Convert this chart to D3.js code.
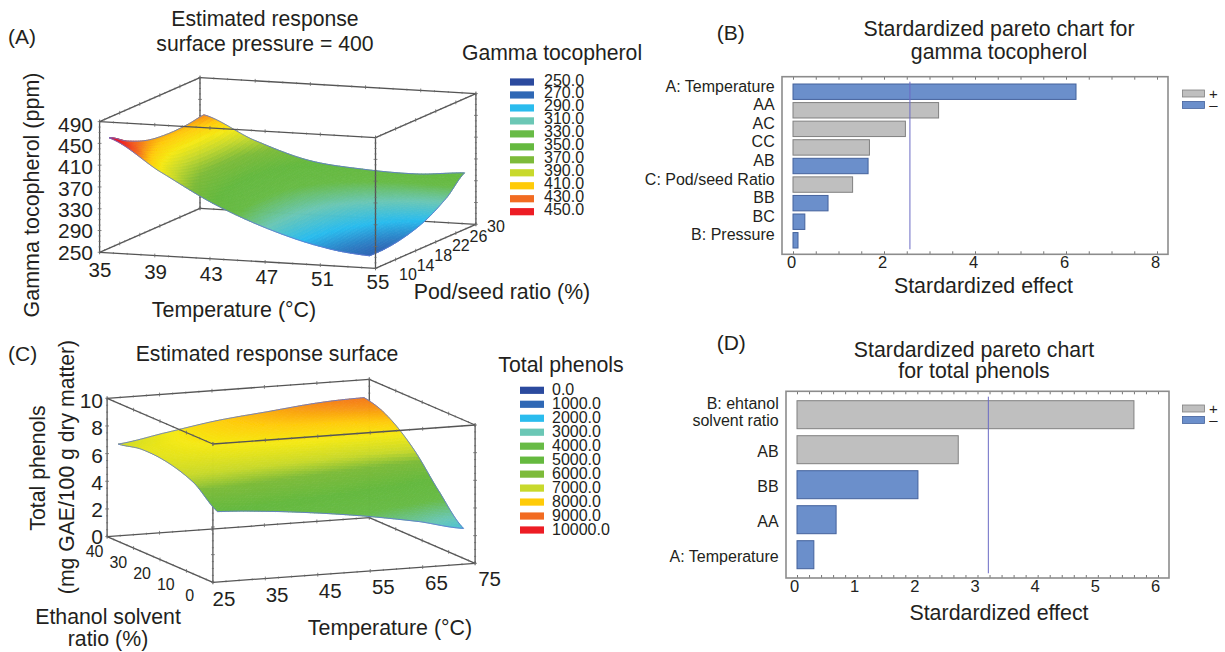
<!DOCTYPE html>
<html>
<head>
<meta charset="utf-8">
<title>Response surfaces and pareto charts</title>
<script src="https://cdn.jsdelivr.net/npm/d3@7"></script>
<style>
  html, body { margin: 0; padding: 0; background: #fff; }
  text { font-family: "Liberation Sans", Arial, sans-serif; fill: #231f20; }
</style>
</head>
<body>
<div class="chart"></div>
<script>
// (A) surface, ppm, rows = temperature, columns = pod/seed ratio
var gammaTemps = [35.5, 39, 43, 47, 51, 54.4];
var gammaRatios = [10.5, 14, 18, 22, 26, 29.4];
var gammaValues = [
  [459, 439, 424, 419, 420, 425],
  [405, 390, 379, 376, 378, 385],
  [350, 342, 338, 338, 343, 353],
  [309, 308, 310, 316, 327, 342],
  [281, 284, 290, 300, 318, 339],
  [270, 271, 278, 292, 316, 346]
];
var gammaLegend = [250, 270, 290, 310, 330, 350, 370, 390, 410, 430, 450];

// (C) surface, thousands, rows = temperature, columns = ethanol ratio
var phenolTemps = [26.5, 35, 45, 55, 65, 73.4];
var phenolRatios = [1.2, 10, 20, 30, 38.8];
var phenolValues = [
  [4.97, 6.29, 6.96, 7.10, 6.75],
  [4.76, 6.10, 7.00, 7.40, 7.29],
  [4.37, 5.80, 7.00, 7.70, 7.91],
  [3.85, 5.40, 6.90, 7.90, 8.31],
  [3.19, 4.90, 6.70, 8.00, 8.69],
  [2.47, 4.28, 6.63, 8.22, 8.82]
];
var phenolLegend = [0, 1000, 2000, 3000, 4000, 5000, 6000, 7000, 8000, 9000, 10000];

var legendColors = ["#2b4a9e", "#2f68b5", "#2abcee", "#6bc7b5", "#68bb46", "#65b93f", "#7dbb3a", "#c8d92c", "#ffcb08", "#f26b21", "#ed1c24"];

// (B)
var gammaTerms = ["A: Temperature", "AA", "AC", "CC", "AB", "C: Pod/seed Ratio", "BB", "BC", "B: Pressure"];
var gammaEffects = [6.22, 3.2, 2.47, 1.68, 1.65, 1.31, 0.77, 0.26, 0.11];
var gammaSigns = ["-", "+", "+", "+", "-", "+", "-", "-", "-"];
var gammaLimit = 2.57;

// (D)
var phenolTerms = ["B", "AB", "BB", "AA", "A: Temperature"];
var phenolEffects = [5.6, 2.68, 2.01, 0.65, 0.28];
var phenolSigns = ["+", "+", "-", "-", "-"];
var phenolLimit = 3.18;

var gammaTempTicks = [35, 39, 43, 47, 51, 55];
var gammaRatioTicks = [10, 14, 18, 22, 26, 30];
var gammaZTicks = [250, 290, 330, 370, 410, 450, 490];
var phenolTempTicks = [25, 35, 45, 55, 65, 75];
var phenolRatioTicks = [0, 10, 20, 30, 40];
var phenolZTicks = [0, 2, 4, 6, 8, 10];

var svg = d3.select(".chart").append("svg")
  .attr("width", 1225)
  .attr("height", 652)
  .style("display", "block");

// the surfaces in the picture are soft, a small blur hides the mesh seams
svg.append("defs").append("filter")
  .attr("id", "soft")
  .append("feGaussianBlur").attr("stdDeviation", 0.6);

function label(str, x, y, size, anchor, rotate) {
  var t = svg.append("text")
    .attr("font-size", size)
    .attr("text-anchor", anchor || "middle")
    .attr("dominant-baseline", "central")
    .text(str);
  if (rotate) t.attr("transform", `translate(${x},${y}) rotate(${rotate})`);
  else t.attr("x", x).attr("y", y);
  return t;
}

// Catmull-Rom between the values, only to shade the mesh smoothly
function cubic(a, b, c, d, t) {
  return 0.5 * (2 * b + (c - a) * t + (2 * a - 5 * b + 4 * c - d) * t * t + (3 * b - a - 3 * c + d) * t * t * t);
}
function smoothValue(grid, fi, fj) {
  var rows = grid.length, cols = grid[0].length;
  var i = Math.min(Math.floor(fi), rows - 2), j = Math.min(Math.floor(fj), cols - 2);
  var ti = fi - i, tj = fj - j;
  var col = [];
  for (var n = -1; n <= 2; n++) {
    var r = grid[Math.max(0, Math.min(rows - 1, i + n))];
    col.push(cubic(r[Math.max(0, j - 1)], r[j], r[j + 1], r[Math.min(cols - 1, j + 2)], tj));
  }
  return cubic(col[0], col[1], col[2], col[3], ti);
}

function drawSurface(opt) {
  var xs = opt.tScale, ys = opt.rScale, zs = opt.zScale;
  var project = (t, r, z) => [
    opt.origin[0] + xs(t) * opt.tVec[0] + ys(r) * opt.rVec[0] + zs(z) * opt.zVec[0],
    opt.origin[1] + xs(t) * opt.tVec[1] + ys(r) * opt.rVec[1] + zs(z) * opt.zVec[1]
  ];
  var g = svg.append("g");
  var line = d3.line();
  var [t0, t1] = xs.domain(), [r0, r1] = ys.domain(), [z0, z1] = zs.domain();

  function edge(layer, a, b, n, minorEvery) {
    var p = project(a[0], a[1], a[2]), q = project(b[0], b[1], b[2]);
    layer.append("path").attr("d", line([p, q]))
      .attr("fill", "none").attr("stroke", "#555").attr("stroke-width", 1.3);
    var vertical = Math.abs(p[0] - q[0]) < 1;
    d3.range(n * minorEvery + 1).forEach(k => {
      var f = k / (n * minorEvery);
      var x = p[0] + (q[0] - p[0]) * f, y = p[1] + (q[1] - p[1]) * f;
      var len = k % minorEvery === 0 ? 1.9 : 1;
      layer.append("path")
        .attr("d", vertical ? line([[x - len, y], [x + len, y]]) : line([[x, y - len], [x, y + len]]))
        .attr("stroke", "#6a6a6a").attr("stroke-width", 0.8);
    });
  }

  var back = g.append("g");
  var mesh = g.append("g");
  var front = g.append("g");
  var nt = opt.tTicks.length - 1, nr = opt.rTicks.length - 1, nz = opt.zTicks.length - 1;

  // edges behind the surface
  edge(back, [t0, r1, z0], [t0, r1, z1], nz, 4);
  edge(back, [t0, r1, z0], [t1, r1, z0], nt, 4);
  edge(back, [t0, r0, z0], [t0, r1, z0], nr, 4);
  edge(back, [t1, r0, z0], [t1, r1, z0], nr, 4);
  edge(back, [t0, r1, z1], [t1, r1, z1], nt, 4);
  edge(back, [t1, r1, z0], [t1, r1, z1], nz, 4);
  edge(back, [t0, r0, z0], [t0, r0, z1], nz, 4);

  // surface mesh
  var sub = 12;
  var rows = opt.temps.length, cols = opt.ratios.length;
  var tOf = d3.scaleLinear().domain(d3.range(rows)).range(opt.temps);
  var rOf = d3.scaleLinear().domain(d3.range(cols)).range(opt.ratios);
  var cells = [];
  for (var a = 0; a < (rows - 1) * sub; a++) {
    for (var b = 0; b < (cols - 1) * sub; b++) {
      var pts = [[a, b], [a + 1, b], [a + 1, b + 1], [a, b + 1]].map(c => {
        var fi = c[0] / sub, fj = c[1] / sub;
        return project(tOf(fi), rOf(fj), smoothValue(opt.values, fi, fj));
      });
      cells.push({ pts: pts, v: smoothValue(opt.values, (a + 0.5) / sub, (b + 0.5) / sub) });
    }
  }
  mesh.append("g").attr("filter", "url(#soft)")
    .selectAll("path").data(cells).enter().append("path")
    .attr("d", d => line(d.pts) + "Z")
    .attr("fill", d => opt.color(d.v))
    .attr("stroke", d => opt.color(d.v))
    .attr("stroke-width", 0.8);

  // thin blue rim of the surface
  var rim = [];
  d3.range((rows - 1) * sub + 1).forEach(k => rim.push([k / sub, 0]));
  d3.range(1, (cols - 1) * sub + 1).forEach(k => rim.push([rows - 1, k / sub]));
  d3.range((rows - 1) * sub - 1, -1, -1).forEach(k => rim.push([k / sub, cols - 1]));
  d3.range((cols - 1) * sub - 1, 0, -1).forEach(k => rim.push([0, k / sub]));
  mesh.append("path")
    .attr("d", line(rim.map(c => project(tOf(c[0]), rOf(c[1]), smoothValue(opt.values, c[0], c[1])))) + "Z")
    .attr("fill", "none").attr("stroke", "#5f78d2").attr("stroke-opacity", 0.85).attr("stroke-width", 1);

  // edges in front of it
  edge(front, [t0, r0, z0], [t1, r0, z0], nt, 4);
  edge(front, [t1, r0, z0], [t1, r0, z1], nz, 4);
  edge(front, [t0, r0, z1], [t1, r0, z1], nt, 4);
  edge(front, [t0, r0, z1], [t0, r1, z1], nr, 4);
  edge(front, [t1, r0, z1], [t1, r1, z1], nr, 4);
}

function drawLegend(values, x, y0, step, labelX, labelDy) {
  values.forEach((v, i) => {
    var y = y0 + i * step;
    svg.append("rect")
      .attr("x", x).attr("y", y - 3.6).attr("width", 24).attr("height", 7.2)
      .attr("fill", legendColors[i]);
    label(v.toFixed(1), labelX, y + labelDy, 16, "start");
  });
}

// ---- (A)
var gammaColor = d3.scaleLinear()
  .domain([250, 270, 290, 310, 330, 350, 370, 388, 402, 415, 430, 450])
  .range(["#2b4a9e", "#2f68b5", "#2abcee", "#6bc7b5", "#68bb46", "#65b93f", "#7dbb3a", "#c8d92c", "#f5e914", "#ffcb08", "#f26b21", "#ed1c24"]);

drawSurface({
  origin: [99.6, 252.3], tVec: [275.9, 16], rVec: [100.4, -44], zVec: [0, -130.7],
  tScale: d3.scaleLinear().domain([35, 55]).range([0, 1]),
  rScale: d3.scaleLinear().domain([10, 30]).range([0, 1]),
  zScale: d3.scaleLinear().domain([250, 490]).range([0, 1]),
  tTicks: gammaTempTicks, rTicks: gammaRatioTicks, zTicks: gammaZTicks,
  temps: gammaTemps, ratios: gammaRatios, values: gammaValues, color: gammaColor
});

var aZ = d3.scaleLinear().domain([250, 490]).range([252.3, 124.3]);
gammaZTicks.forEach(v => label(v, 93, aZ(v), 21, "end"));
var aTx = d3.scaleLinear().domain([35, 55]).range([100, 378]);
var aTy = d3.scaleLinear().domain([35, 55]).range([269, 281]);
gammaTempTicks.forEach(v => label(v, aTx(v), aTy(v), 20.5));
var aRx = d3.scaleLinear().domain([10, 30]).range([408, 496]);
var aRy = d3.scaleLinear().domain([10, 30]).range([274.7, 226.7]);
gammaRatioTicks.forEach(v => label(v, aRx(v), aRy(v), 16));

label("(A)", 8, 36, 21, "start");
label("Estimated response", 265, 18.5, 21.2);
label("surface pressure = 400", 265, 43.5, 21.2);
label("Gamma tocopherol", 552, 52, 21.2);
label("Gamma tocopherol (ppm)", 32, 195, 21.5, "middle", -90);
label("Temperature (°C)", 234, 310, 21.4);
label("Pod/seed ratio (%)", 502, 292, 21.3);
drawLegend(gammaLegend, 510, 82, 12.97, 544, -2);

// ---- (C)
var phenolColor = d3.scaleLinear()
  .domain([0, 1, 2, 3, 4, 5, 6, 6.6, 7.4, 8, 9, 10])
  .range(["#2b4a9e", "#2f68b5", "#2abcee", "#6bc7b5", "#68bb46", "#65b93f", "#7dbb3a", "#c8d92c", "#f5e914", "#ffcb08", "#f26b21", "#ed1c24"]);

drawSurface({
  origin: [212.9, 582.3], tVec: [262.2, -19], rVec: [-105.8, -45.7], zVec: [0, -138.3],
  tScale: d3.scaleLinear().domain([25, 75]).range([0, 1]),
  rScale: d3.scaleLinear().domain([0, 40]).range([0, 1]),
  zScale: d3.scaleLinear().domain([0, 10]).range([0, 1]),
  tTicks: phenolTempTicks, rTicks: phenolRatioTicks, zTicks: phenolZTicks,
  temps: phenolTemps, ratios: phenolRatios, values: phenolValues, color: phenolColor
});

var cZ = d3.scaleLinear().domain([0, 10]).range([536.7, 400.7]);
phenolZTicks.forEach(v => label(v, 103, cZ(v), 21, "end"));
var cTx = d3.scaleLinear().domain([25, 75]).range([224, 489.6]);
var cTy = d3.scaleLinear().domain([25, 75]).range([598, 578.3]);
phenolTempTicks.forEach(v => label(v, cTx(v), cTy(v), 20.5));
var cRx = d3.scaleLinear().domain([0, 40]).range([189.6, 94.6]);
var cRy = d3.scaleLinear().domain([0, 40]).range([595, 551.7]);
phenolRatioTicks.forEach(v => label(v, cRx(v), cRy(v), 16));

label("(C)", 8, 353, 21, "start");
label("Estimated response surface", 267, 353, 21.2);
label("Total phenols", 561, 365, 21.3);
label("Total phenols", 38, 468, 21.3, "middle", -90);
label("(mg GAE/100 g dry matter)", 66, 467, 21.2, "middle", -90);
label("Ethanol solvent", 108, 617, 21.3);
label("ratio (%)", 108, 639, 21.3);
label("Temperature (°C)", 390, 628, 21.4);
drawLegend(phenolLegend, 520, 390.3, 13.97, 552, -1);

// ---- pareto charts
function drawPareto(opt) {
  var f = opt.frame;
  var g = svg.append("g");
  var x = d3.scaleLinear().domain(opt.domain).range(opt.xRange);
  var y = d3.scaleBand().domain(opt.terms).range(opt.yRange).paddingInner(opt.padding).paddingOuter(0);

  var minor = d3.range(opt.domain[0], opt.domain[1] + 1e-6, opt.minor);
  g.append("g").attr("transform", `translate(0,${f.top})`)
    .call(d3.axisBottom(x).tickValues(minor).tickSize(3).tickFormat(""))
    .call(a => a.select(".domain").remove())
    .selectAll("line").attr("stroke", "#777");
  g.append("g").attr("transform", `translate(0,${f.bottom})`)
    .call(d3.axisTop(x).tickValues(minor).tickSize(3).tickFormat(""))
    .call(a => a.select(".domain").remove())
    .selectAll("line").attr("stroke", "#777");

  g.selectAll("rect.bar").data(opt.effects).enter().append("rect")
    .attr("class", "bar")
    .attr("x", x(0))
    .attr("y", (d, i) => y(opt.terms[i]))
    .attr("width", d => x(d) - x(0))
    .attr("height", y.bandwidth())
    .attr("fill", (d, i) => opt.signs[i] === "+" ? "#bfbfbf" : "#6b8fcb")
    .attr("stroke", (d, i) => opt.signs[i] === "+" ? "#808080" : "#44629c")
    .attr("stroke-width", 1);

  g.append("line")
    .attr("x1", x(opt.limit)).attr("x2", x(opt.limit))
    .attr("y1", opt.limitY[0]).attr("y2", opt.limitY[1])
    .attr("stroke", "#6a6ac4").attr("stroke-width", 1);

  g.append("rect")
    .attr("x", f.left).attr("y", f.top)
    .attr("width", f.right - f.left).attr("height", f.bottom - f.top)
    .attr("fill", "none").attr("stroke", "#8c8c8c").attr("stroke-width", 1.6);

  // x axis numbers
  var axis = g.append("g").attr("transform", `translate(${opt.tickShift},${f.bottom})`)
    .call(d3.axisBottom(x).tickValues(opt.ticks).tickSize(0).tickPadding(2).tickFormat(d3.format("d")));
  axis.select(".domain").remove();
  axis.selectAll("text").attr("font-size", 16.5).attr("font-family", '"Liberation Sans", Arial, sans-serif').attr("fill", "#231f20");

  // legend
  [["+", "#bfbfbf", "#808080"], ["–", "#6b8fcb", "#44629c"]].forEach((s, i) => {
    var yy = opt.legendY + i * 11.4;
    g.append("rect").attr("x", 1182.5).attr("y", yy).attr("width", 22).attr("height", 7)
      .attr("fill", s[1]).attr("stroke", s[2]).attr("stroke-width", 0.8);
    label(s[0], 1213.5, yy + 3.5, 15);
  });
  return y;
}

var gammaY = drawPareto({
  terms: gammaTerms, effects: gammaEffects, signs: gammaSigns, limit: gammaLimit,
  domain: [0, 8], ticks: [0, 2, 4, 6, 8], minor: 0.5,
  xRange: [793, 1157], yRange: [84, 248], padding: 0.17,
  frame: { left: 782, right: 1168, top: 76.7, bottom: 254.3 },
  limitY: [81.7, 249.3], tickShift: -2, legendY: 90
});
gammaTerms.forEach(t => label(t, 774.7, gammaY(t) + gammaY.bandwidth() / 2 - 5.5, 16, "end"));

var phenolY = drawPareto({
  terms: phenolTerms, effects: phenolEffects, signs: phenolSigns, limit: phenolLimit,
  domain: [0, 6], ticks: [0, 1, 2, 3, 4, 5, 6], minor: 0.2,
  xRange: [797, 1158], yRange: [400.7, 568.7], padding: 0.2,
  frame: { left: 786, right: 1169, top: 391.3, bottom: 578 },
  limitY: [396.7, 573.3], tickShift: -3, legendY: 405
});
phenolTerms.forEach((t, i) => {
  if (i > 0) label(t, 778.7, phenolY(t) + phenolY.bandwidth() / 2 + 2, 16, "end");
});
label("B: ehtanol", 778.7, 403.7, 16, "end");
label("solvent ratio", 778.7, 420, 16, "end");

label("(B)", 716.7, 32, 21, "start");
label("Stardardized pareto chart for", 999, 29, 21.3);
label("gamma tocopherol", 999, 52, 21.3);
label("Stardardized effect", 983.5, 285.7, 21.4);

label("(D)", 716.7, 342, 21, "start");
label("Stardardized pareto chart", 974, 350, 21.3);
label("for total phenols", 974, 371, 21.3);
label("Stardardized effect", 999, 613, 21.4);
</script>
</body>
</html>
